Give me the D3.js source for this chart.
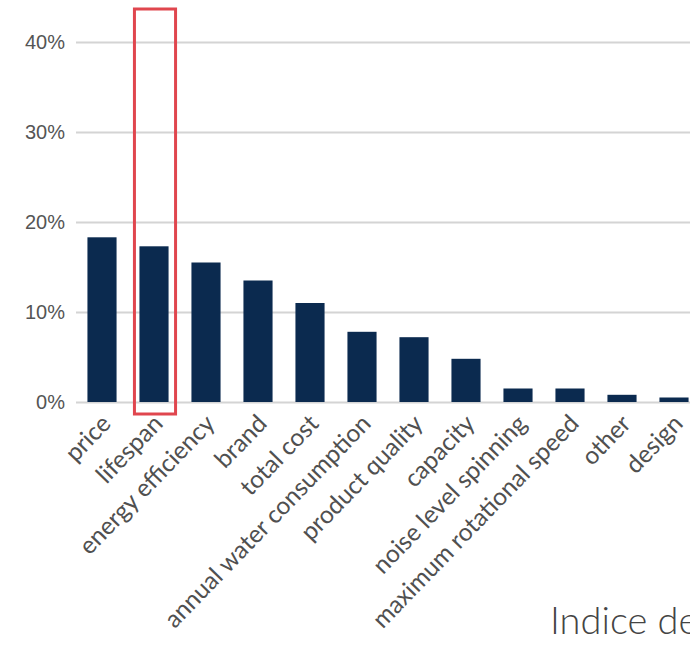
<!DOCTYPE html>
<html>
<head>
<meta charset="utf-8">
<script src="https://cdn.jsdelivr.net/npm/d3@7"></script>
<style>
  body { margin: 0; background: #fff; }
  svg { display: block; }
</style>
</head>
<body>
<svg id="chart"></svg>
<script>
const width = 690;
const height = 647;

// criteria, share of respondents
const categories = ["price", "lifespan", "energy efficiency", "brand", "total cost",
  "annual water consumption", "product quality", "capacity", "noise level spinning",
  "maximum rotational speed", "other", "design"];
const values = [0.183, 0.173, 0.155, 0.135, 0.110, 0.078, 0.072, 0.048, 0.015, 0.015, 0.008, 0.005];
const yTicks = [0, 0.1, 0.2, 0.3, 0.4];
const highlighted = "lifespan";
const caption = "Indice de";

const svg = d3.select("#chart")
    .attr("width", width)
    .attr("height", height)
    .style("font-family", "Lato, 'Open Sans', sans-serif");

const x = d3.scaleBand()
    .domain(categories)
    .range([76, 700])
    .paddingInner(0.44)
    .paddingOuter(0.22);

const y = d3.scaleLinear()
    .domain([0, 0.4])
    .range([402, 42]);

// gridlines + y labels
const yAxis = svg.append("g")
    .attr("transform", "translate(76,0)")
    .call(d3.axisLeft(y).tickValues(yTicks).tickFormat(d3.format(".0%")).tickSize(-640).tickPadding(11));
yAxis.select(".domain").remove();
yAxis.selectAll(".tick line")
    .attr("stroke", "#d4d4d4")
    .attr("stroke-width", 2);
yAxis.selectAll(".tick text")
    .attr("fill", "#555")
    .style("font-size", "20px");

// bars
svg.append("g")
  .selectAll("rect")
  .data(categories)
  .join("rect")
    .attr("x", d => x(d))
    .attr("y", (d, i) => y(values[i]))
    .attr("width", x.bandwidth())
    .attr("height", (d, i) => y(0) - y(values[i]))
    .attr("fill", "#0b2a4f");

// rotated category labels
svg.append("g")
  .selectAll("text")
  .data(categories)
  .join("text")
    .attr("transform", d => `translate(${x(d) + x.bandwidth() / 2 + 4},${y(0) + 17}) rotate(-46)`)
    .attr("text-anchor", "end")
    .attr("dy", "0.35em")
    .attr("fill", "#505050")
    .style("font-size", "24.5px")
    .text(d => d);

// red highlight box
svg.append("rect")
    .attr("x", x(highlighted) - 5)
    .attr("y", y(0.4) - 33)
    .attr("width", x.bandwidth() + 12)
    .attr("height", y(0) + 12 - (y(0.4) - 33))
    .attr("fill", "none")
    .attr("stroke", "#e0464e")
    .attr("stroke-width", 3);

svg.append("text")
    .attr("x", 550)
    .attr("y", 634)
    .attr("fill", "#444")
    .style("font-size", "38px")
    .style("font-weight", 300)
    .text(caption);
</script>
</body>
</html>
